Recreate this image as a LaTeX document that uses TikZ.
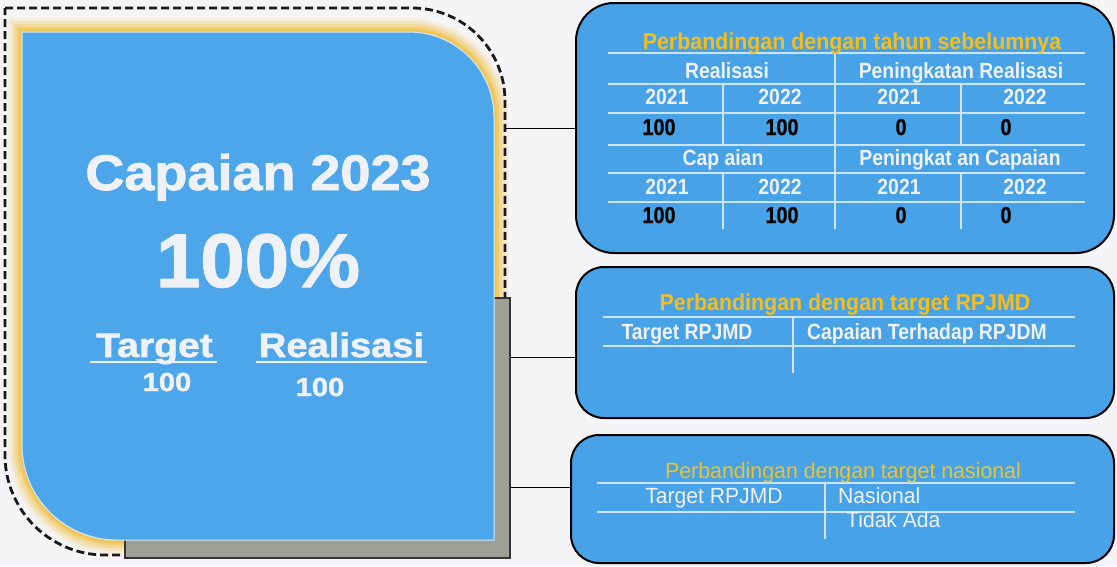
\documentclass[tikz,border=0pt]{standalone}
\usepackage{fontspec}
\setmainfont{Liberation Sans}
\newfontfamily\heavyfont[BoldFeatures={FakeBold=1.6}]{Liberation Sans}
\newfontfamily\semiheavyfont[BoldFeatures={FakeBold=0.8}]{Liberation Sans}
\usetikzlibrary{calc}
\definecolor{bg}{RGB}{245,245,247}
\definecolor{pblue}{RGB}{78,166,234}
\definecolor{bblue}{RGB}{72,162,232}
\definecolor{gold}{RGB}{240,198,88}
\definecolor{ttl}{RGB}{244,190,30}
\definecolor{ttl2}{RGB}{232,196,52}
\definecolor{tline}{RGB}{205,228,246}
\definecolor{wtxt}{RGB}{238,242,246}
\definecolor{shadowgray}{RGB}{158,160,152}
\newcommand\lpanelpath[1]{(22-#1,32-#1) -- (409,32-#1) arc[start angle=-90,end angle=0,radius=85+#1] -- (494+#1,540+#1) -- (117,540+#1) arc[start angle=90,end angle=180,radius=95+#1] -- cycle}
\tikzset{
  rbox/.style={draw=black, line width=2pt, fill=bblue, inner sep=0pt},
  tl/.style={draw=tline, line width=1.2pt},
  big/.style={font={\fontsize{#1}{#1}\selectfont\heavyfont\bfseries}, text=wtxt, anchor=base, inner sep=0pt},
  ttlA/.style={font={\fontsize{23}{23}\selectfont\bfseries}, text=ttl, anchor=base, inner sep=0pt, xscale=0.93},
  hdr/.style={font={\fontsize{22}{22}\selectfont\bfseries}, text=wtxt, anchor=base, inner sep=0pt, xscale=0.88},
  val/.style={font={\fontsize{23}{23}\selectfont\semiheavyfont\bfseries}, text=black, anchor=base, inner sep=0pt, xscale=0.86},
  reg/.style={font={\fontsize{22}{22}\selectfont}, text=wtxt, anchor=base, inner sep=0pt, xscale=0.96},
  uline/.style={draw=wtxt, line width=2.5pt},
  conn/.style={draw=black, line width=1pt},
}
\begin{document}
\begin{tikzpicture}[x=1pt,y=-1pt]
\useasboundingbox[fill=bg] (0,0) rectangle (1117,566);
% glow around left panel
\fill[gold!15!bg] \lpanelpath{14};
\fill[gold!35!bg] \lpanelpath{11};
\fill[gold!60!bg] \lpanelpath{8};
\fill[gold!85!bg] \lpanelpath{5};
\fill[gold] \lpanelpath{3};
% dashed outline
\draw[black!90, line width=2.8pt, dash pattern=on 8pt off 4pt]
  (5,8) -- (412,8) arc[start angle=-90,end angle=0,radius=93] -- (505,555)
  -- (105,555) arc[start angle=90,end angle=180,radius=100] -- cycle;
% shadow box
\fill[shadowgray] (125,298) rectangle (510,558);
\draw[black!80, line width=1.8pt] (125,298) rectangle (510,558);
% blue panel
\fill[pblue] \lpanelpath{0};
\draw[white!75!pblue, line width=1pt] \lpanelpath{0};
% left panel text
\node[big=50, xscale=1.08] (cap) at (258,190) {Capaian 2023};
\node[big=76, xscale=1.05] (pct) at (258,287) {100\%};
\node[big=34, xscale=1.15] (tg) at (154.5,357) {Target};
\node[big=34, xscale=1.12] (rl) at (341.5,357) {Realisasi};
\draw[uline] (90,362) -- (217,362);
\draw[uline] (256,362) -- (427,362);
\node[big=26, xscale=1.12] (tgv) at (167,391) {100};
\node[big=26, xscale=1.12] (rlv) at (320,396) {100};
% right boxes
\node[rbox, rounded corners=38pt, minimum width=538pt, minimum height=250pt] (b1) at (845,128) {};
\node[rbox, rounded corners=28pt, minimum width=538pt, minimum height=151pt] (b2) at (845,342.5) {};
\node[rbox, rounded corners=28pt, minimum width=543pt, minimum height=128pt] (b3) at (842.5,499) {};
% connectors
\coordinate (c1) at (505,128);
\coordinate (c2) at (510,357);
\coordinate (c3) at (510,487);
\draw[conn] (c1) -- (c1 -| b1.west);
\draw[conn] (c2) -- (c2 -| b2.west);
\draw[conn] (c3) -- (c3 -| b3.west);
% box 1 table
\foreach \yy in {53,84,113,145,173,202} \draw[tl] (608,\yy) -- (1085,\yy);
\draw[tl] (835,53) -- (835,229);
\foreach \xx in {723,961} {\draw[tl] (\xx,84) -- (\xx,145); \draw[tl] (\xx,173) -- (\xx,229);}
\node[ttlA] (t1) at (852,49) {Perbandingan dengan tahun sebelumnya};
\node[hdr] (h1) at (727,78) {Realisasi};
\node[hdr] (h2) at (961,78) {Peningkatan Realisasi};
\node[hdr] (y1) at (667,104) {2021};
\node[hdr] (y2) at (780,104) {2022};
\node[hdr] (y3) at (899,104) {2021};
\node[hdr] (y4) at (1025,104) {2022};
\node[val] (v1) at (659,135) {100};
\node[val] (v2) at (782,135) {100};
\node[val] (v3) at (901,135) {0};
\node[val] (v4) at (1006,135) {0};
\node[hdr] (h3) at (723,165) {Cap aian};
\node[hdr] (h4) at (960,165) {Peningkat an Capaian};
\node[hdr] (y5) at (667,194) {2021};
\node[hdr] (y6) at (780,194) {2022};
\node[hdr] (y7) at (899,194) {2021};
\node[hdr] (y8) at (1025,194) {2022};
\node[val] (v5) at (659,223) {100};
\node[val] (v6) at (782,223) {100};
\node[val] (v7) at (901,223) {0};
\node[val] (v8) at (1006,223) {0};
% box 2 table
\draw[tl] (603,317) -- (1075,317);
\draw[tl] (603,346) -- (1075,346);
\draw[tl] (793,317) -- (793,373);
\node[ttlA] (t2) at (845,310) {Perbandingan dengan target RPJMD};
\node[hdr] (r1) at (687,339) {Target RPJMD};
\node[hdr] (r2) at (927,339) {Capaian Terhadap RPJDM};
% box 3 table
\draw[tl] (597,483) -- (1075,483);
\draw[tl] (597,512) -- (1075,512);
\draw[tl] (825,483) -- (825,539);
\node[reg, text=ttl2, xscale=1.01] (t3) at (843,478) {Perbandingan dengan target nasional};
\node[reg] (n1) at (714,503) {Target RPJMD};
\node[reg, anchor=base west] (n2) at (838,503) {Nasional};
\node[reg, anchor=base west] (n3) at (846,527) {Tidak Ada};
\end{tikzpicture}
\end{document}
